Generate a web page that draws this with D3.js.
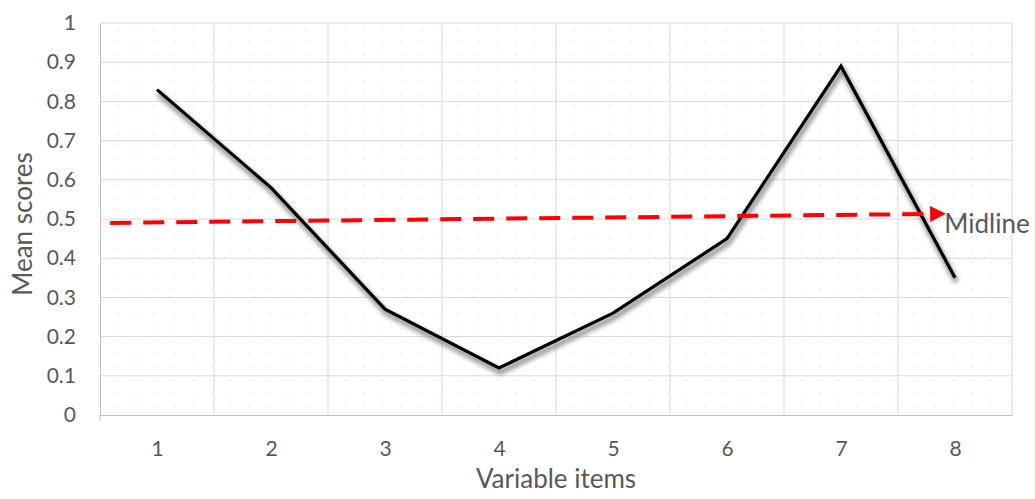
<!DOCTYPE html>
<html lang="en">
<head>
<meta charset="UTF-8">
<title>Mean scores</title>
<script src="https://d3js.org/d3.v7.min.js"></script>
<style>
  body { margin: 0; background: #fff; }
  text { font-family: Lato, "Open Sans", sans-serif; fill: #595959; }
</style>
</head>
<body>
<script>
    // chart values
    let items = [1, 2, 3, 4, 5, 6, 7, 8];
    let scores = [0.83, 0.58, 0.27, 0.12, 0.26, 0.45, 0.89, 0.35];
    let yTicks = [0, 0.1, 0.2, 0.3, 0.4, 0.5, 0.6, 0.7, 0.8, 0.9, 1];
    // hand drawn midline arrow (item position, score)
    let midX = [0.59, 7.88];
    let midY = [0.49, 0.513];

    let width = 1035, height = 499;
    let plotLeft = 100, plotRight = 1012, plotTop = 23, plotBottom = 415;

    let svg = d3.select('body').append('svg')
        .attr('width', width)
        .attr('height', height);

    let defs = svg.append('defs');
    defs.append('filter').attr('id', 'blur')
        .attr('x', '-10%').attr('y', '-10%').attr('width', '120%').attr('height', '130%')
        .append('feGaussianBlur').attr('stdDeviation', 2.2);

    let dots = defs.append('pattern').attr('id', 'dots')
        .attr('patternUnits', 'userSpaceOnUse')
        .attr('width', 19).attr('height', 13);
    dots.append('circle').attr('cx', 3).attr('cy', 3).attr('r', 0.9).attr('fill', '#ececec');

    let x = d3.scaleLinear().domain([0.5, 8.5]).range([plotLeft, plotRight]);
    let y = d3.scaleLinear().domain([0, 1]).range([plotBottom, plotTop]);

    svg.append('rect')
        .attr('x', plotLeft).attr('y', plotTop)
        .attr('width', plotRight - plotLeft).attr('height', plotBottom - plotTop)
        .attr('fill', 'url(#dots)');

    // horizontal gridlines
    svg.append('g').selectAll('line')
        .data(yTicks.slice(1))
        .enter().append('line')
        .attr('x1', plotLeft).attr('x2', plotRight)
        .attr('y1', d => y(d)).attr('y2', d => y(d))
        .attr('stroke', '#d9d9d9').attr('stroke-width', 1);

    // vertical gridlines between categories
    let bounds = d3.range(1.5, 9, 1);
    svg.append('g').selectAll('line')
        .data(bounds)
        .enter().append('line')
        .attr('x1', d => x(d)).attr('x2', d => x(d))
        .attr('y1', plotTop).attr('y2', plotBottom)
        .attr('stroke', '#d9d9d9').attr('stroke-width', 1);

    // axes
    let yAxis = svg.append('g')
        .attr('transform', 'translate(' + plotLeft + ',0)')
        .call(d3.axisLeft(y).tickValues(yTicks).tickSize(0).tickPadding(24)
            .tickFormat(d => d3.format('~g')(d)));
    yAxis.select('.domain').attr('stroke', '#bfbfbf');
    yAxis.selectAll('text').style('font-size', '21px').attr('fill', '#595959');

    let xAxis = svg.append('g')
        .attr('transform', 'translate(0,' + plotBottom + ')')
        .call(d3.axisBottom(x).tickValues(items).tickSize(0).tickPadding(26)
            .tickFormat(d3.format('d')));
    xAxis.select('.domain').attr('stroke', '#bfbfbf');
    xAxis.selectAll('text').style('font-size', '21px').attr('fill', '#595959');
    svg.append('line')
        .attr('x1', plotLeft).attr('x2', plotLeft)
        .attr('y1', plotBottom).attr('y2', plotBottom + 6)
        .attr('stroke', '#bfbfbf');

    // data line with soft shadow underneath
    let line = d3.line()
        .x((d, i) => x(items[i]))
        .y(d => y(d));
    svg.append('path')
        .datum(scores)
        .attr('d', line)
        .attr('transform', 'translate(1.5,4)')
        .attr('fill', 'none')
        .attr('stroke', '#7f7f7f')
        .attr('stroke-width', 6)
        .attr('stroke-opacity', 0.75)
        .attr('filter', 'url(#blur)');
    svg.append('path')
        .datum(scores)
        .attr('d', line)
        .attr('fill', 'none')
        .attr('stroke', '#000')
        .attr('stroke-width', 3.2)
        .attr('stroke-linejoin', 'miter');

    // midline arrow
    defs.append('marker').attr('id', 'arrow')
        .attr('viewBox', '0 0 10 10')
        .attr('refX', 2).attr('refY', 5)
        .attr('markerWidth', 4).attr('markerHeight', 4)
        .attr('orient', 'auto')
        .append('path').attr('d', 'M0,0 L10,5 L0,10 z').attr('fill', '#ff0000');

    svg.append('line')
        .attr('x1', x(midX[0])).attr('y1', y(midY[0]))
        .attr('x2', x(midX[1]) - 8).attr('y2', y(midY[1]))
        .attr('stroke', '#ff0000')
        .attr('stroke-width', 4)
        .attr('stroke-dasharray', '21,12')
        .attr('marker-end', 'url(#arrow)');

    svg.append('text')
        .attr('x', x(midX[1]) + 3)
        .attr('y', y(midY[1]) + 19)
        .style('font-size', '26px')
        .text('Midline');

    // axis titles
    svg.append('text')
        .attr('transform', 'translate(32,' + 224 + ') rotate(-90)')
        .attr('text-anchor', 'middle')
        .style('font-size', '26px')
        .text('Mean scores');

    svg.append('text')
        .attr('x', (plotLeft + plotRight) / 2)
        .attr('y', 488)
        .attr('text-anchor', 'middle')
        .style('font-size', '26px')
        .text('Variable items');
</script>
</body>
</html>
